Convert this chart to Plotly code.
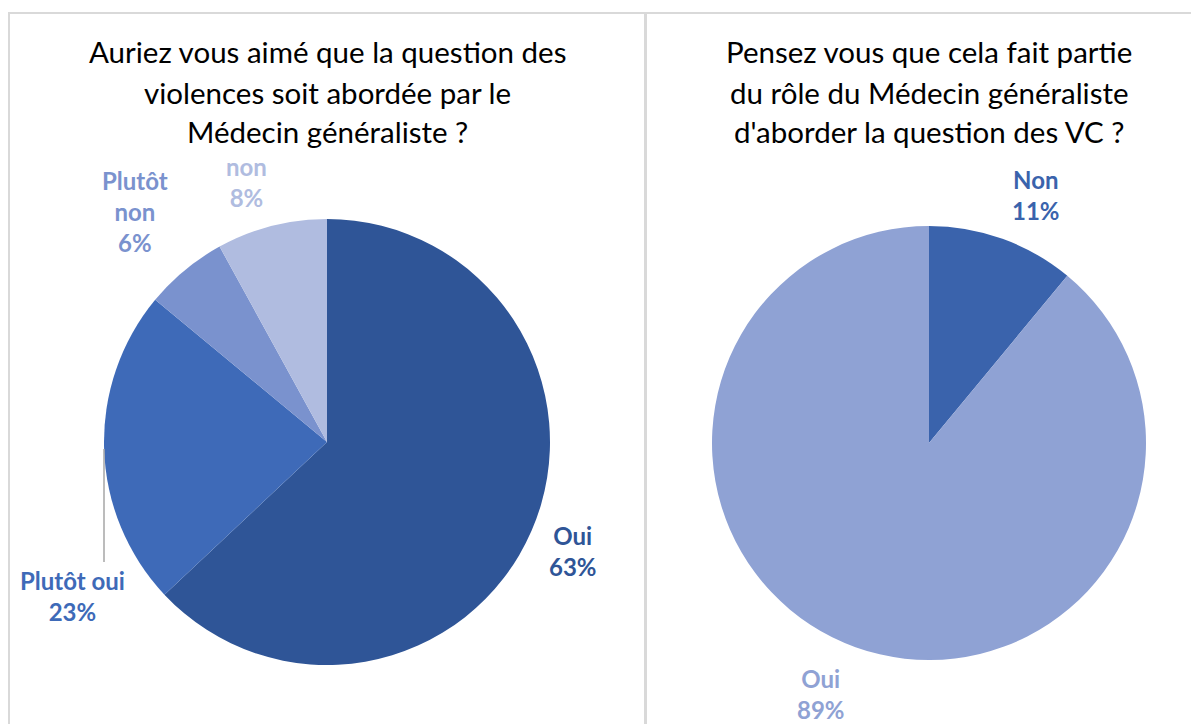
import plotly.graph_objects as go

VW, VH = 1199, 724   # browser viewport
OFF = 8              # default page body margin
W, H = VW - OFF, VH - OFF

# ---- Data ----
left_title = ["Auriez vous aimé que la question des", "violences soit abordée par le", "Médecin généraliste ?"]
left_labels = ["Oui", "Plutôt oui", "Plutôt non", "non"]
left_values = [63, 23, 6, 8]
left_colors = ["#2F5597", "#3E6AB8", "#7A92CE", "#B0BCE0"]

right_title = ["Pensez vous que cela fait partie", "du rôle du Médecin généraliste", "d'aborder la question des VC ?"]
right_labels = ["Non", "Oui"]
right_values = [11, 89]
right_colors = ["#3A63AC", "#8FA2D4"]

# label display text (line-broken like the original) and pixel positions of label centres
left_label_text = ["Oui", "Plutôt oui", "Plutôt<br>non", "non"]
left_label_pos = [(573, 551), (72, 596), (135, 212), (246, 182)]
right_label_text = ["Non", "Oui"]
right_label_pos = [(1036, 195), (821, 694)]

title_line_y = [52, 92, 132]

FONT = "Lato"


def px(x):
    return (x - OFF) / W


def py(y):
    return 1 - (y - OFF) / H


fig = go.Figure()

# left pie: centre (327, 442), radius 223
fig.add_trace(go.Pie(
    labels=left_labels, values=left_values, sort=False, direction="clockwise", rotation=0,
    marker=dict(colors=left_colors, line=dict(width=0)),
    textinfo="none", hoverinfo="label+percent", showlegend=False,
    domain=dict(x=[px(327 - 223), px(327 + 223)], y=[py(442 + 223), py(442 - 223)]),
))
# right pie: centre (929, 443), radius 217
fig.add_trace(go.Pie(
    labels=right_labels, values=right_values, sort=False, direction="clockwise", rotation=0,
    marker=dict(colors=right_colors, line=dict(width=0)),
    textinfo="none", hoverinfo="label+percent", showlegend=False,
    domain=dict(x=[px(929 - 217), px(929 + 217)], y=[py(443 + 217), py(443 - 217)]),
))

annotations = []
# titles, one annotation per line
for title, cx in ((left_title, 327), (right_title, 929)):
    for line, ly in zip(title, title_line_y):
        annotations.append(dict(
            text=line, x=px(cx), y=py(ly), xref="paper", yref="paper",
            xanchor="center", yanchor="middle", showarrow=False, align="center",
            font=dict(family=FONT, size=29.5, color="#000000"),
        ))


def pct(vals, i):
    return round(100 * vals[i] / sum(vals))


for i, (t, (x, y)) in enumerate(zip(left_label_text, left_label_pos)):
    annotations.append(dict(
        text=f"<b>{t}<br>{pct(left_values, i)}%</b>", x=px(x), y=py(y), xref="paper", yref="paper",
        xanchor="center", yanchor="middle", showarrow=False, align="center",
        font=dict(family=FONT, size=24, color=left_colors[i]),
    ))
for i, (t, (x, y)) in enumerate(zip(right_label_text, right_label_pos)):
    annotations.append(dict(
        text=f"<b>{t}<br>{pct(right_values, i)}%</b>", x=px(x), y=py(y), xref="paper", yref="paper",
        xanchor="center", yanchor="middle", showarrow=False, align="center",
        font=dict(family=FONT, size=24, color=right_colors[i]),
    ))

border = "#D9D9D9"
shapes = [
    dict(type="line", xref="paper", yref="paper", x0=px(8), x1=px(VW), y0=py(13), y1=py(13),
         line=dict(color=border, width=2)),
    dict(type="line", xref="paper", yref="paper", x0=px(9), x1=px(9), y0=py(13), y1=py(VH),
         line=dict(color=border, width=2)),
    dict(type="line", xref="paper", yref="paper", x0=px(645.5), x1=px(645.5), y0=py(13), y1=py(VH),
         line=dict(color=border, width=3)),
    # leader line for "Plutôt oui"
    dict(type="line", xref="paper", yref="paper", x0=px(104), x1=px(104), y0=py(449), y1=py(562),
         line=dict(color="#A6A6A6", width=1.5)),
]

fig.update_layout(
    width=W, height=H, margin=dict(l=0, r=0, t=0, b=0),
    paper_bgcolor="white", plot_bgcolor="white",
    annotations=annotations, shapes=shapes,
)

fig.write_html("out.html")
